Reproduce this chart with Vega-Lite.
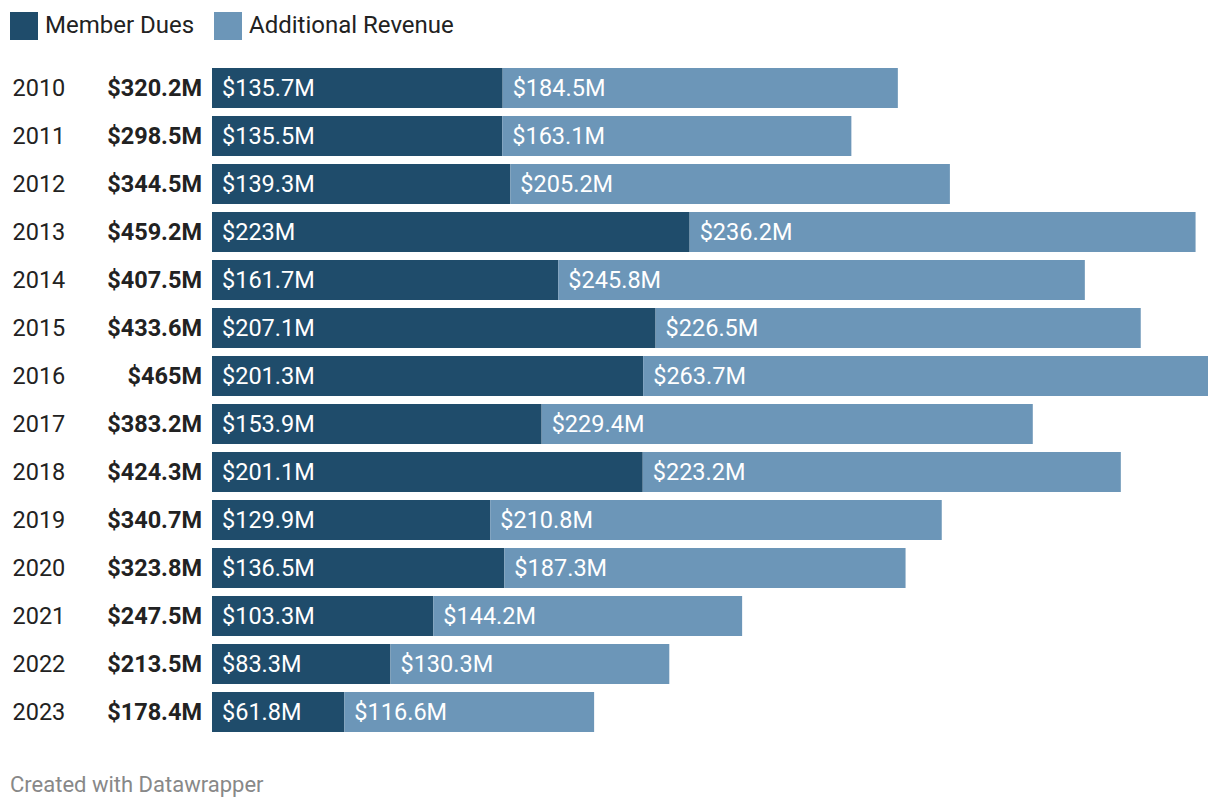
{
  "$schema": "https://vega.github.io/schema/vega-lite/v6.json",
  "autosize": "none",
  "width": 996,
  "height": 672,
  "padding": {"left": 212, "top": 64, "right": 12, "bottom": 74},
  "background": "#ffffff",
  "config": {
    "view": {"stroke": null},
    "font": "Roboto",
    "legend": {"padding": 0}
  },
  "title": {
    "text": "Created with Datawrapper",
    "orient": "bottom",
    "anchor": "start",
    "frame": "group",
    "dx": -202,
    "offset": 39,
    "fontSize": 22,
    "fontWeight": "normal",
    "color": "#888888",
    "font": "Roboto"
  },
  "data": {
    "values": [
      {"year": "2010", "dues": 135.7, "add": 184.5, "total": 320.2},
      {"year": "2011", "dues": 135.5, "add": 163.1, "total": 298.5},
      {"year": "2012", "dues": 139.3, "add": 205.2, "total": 344.5},
      {"year": "2013", "dues": 223.0, "add": 236.2, "total": 459.2},
      {"year": "2014", "dues": 161.7, "add": 245.8, "total": 407.5},
      {"year": "2015", "dues": 207.1, "add": 226.5, "total": 433.6},
      {"year": "2016", "dues": 201.3, "add": 263.7, "total": 465.0},
      {"year": "2017", "dues": 153.9, "add": 229.4, "total": 383.2},
      {"year": "2018", "dues": 201.1, "add": 223.2, "total": 424.3},
      {"year": "2019", "dues": 129.9, "add": 210.8, "total": 340.7},
      {"year": "2020", "dues": 136.5, "add": 187.3, "total": 323.8},
      {"year": "2021", "dues": 103.3, "add": 144.2, "total": 247.5},
      {"year": "2022", "dues": 83.3, "add": 130.3, "total": 213.5},
      {"year": "2023", "dues": 61.8, "add": 116.6, "total": 178.4}
    ]
  },
  "transform": [
    {"calculate": "0", "as": "zero"},
    {"calculate": "'$' + format(datum.dues, '.1~f') + 'M'", "as": "duesLabel"},
    {"calculate": "'$' + format(datum.add, '.1~f') + 'M'", "as": "addLabel"},
    {"calculate": "'$' + format(datum.total, '.1~f') + 'M'", "as": "totalLabel"}
  ],
  "encoding": {
    "y": {
      "field": "year",
      "type": "nominal",
      "sort": null,
      "scale": {"paddingInner": 0.16667, "paddingOuter": 0.08333},
      "axis": {
        "title": null,
        "ticks": false,
        "domain": false,
        "labelAlign": "left",
        "labelPadding": 200,
        "labelOffset": 1,
        "labelFontSize": 23.5,
        "labelColor": "#222222",
        "labelFont": "Roboto"
      }
    }
  },
  "layer": [
    {
      "mark": {"type": "bar"},
      "encoding": {
        "x": {"field": "zero", "type": "quantitative", "scale": {"domain": [0, 465], "nice": false, "zero": true}, "axis": null},
        "x2": {"field": "dues"},
        "color": {
          "datum": "Member Dues",
          "type": "nominal",
          "scale": {"domain": ["Member Dues", "Additional Revenue"], "range": ["#1f4c6b", "#6c96b8"]},
          "legend": {
            "title": null,
            "orient": "none",
            "legendX": -202,
            "legendY": -52,
            "direction": "horizontal",
            "symbolType": "square",
            "symbolSize": 784,
            "symbolStrokeWidth": 0,
            "symbolOpacity": 1,
            "labelFontSize": 24,
            "labelFont": "Roboto",
            "labelColor": "#222222",
            "labelOffset": 7,
            "labelLimit": 0,
            "columnPadding": 19
          }
        }
      }
    },
    {
      "mark": {"type": "bar"},
      "encoding": {
        "x": {"field": "dues", "type": "quantitative"},
        "x2": {"field": "total"},
        "color": {"datum": "Additional Revenue", "type": "nominal"}
      }
    },
    {
      "mark": {"type": "text", "align": "left", "dx": 10, "dy": 1, "fontSize": 23.5, "color": "#ffffff", "font": "Roboto"},
      "encoding": {
        "x": {"field": "zero", "type": "quantitative"},
        "text": {"field": "duesLabel", "type": "nominal"}
      }
    },
    {
      "mark": {"type": "text", "align": "left", "dx": 10, "dy": 1, "fontSize": 23.5, "color": "#ffffff", "font": "Roboto"},
      "encoding": {
        "x": {"field": "dues", "type": "quantitative"},
        "text": {"field": "addLabel", "type": "nominal"}
      }
    },
    {
      "mark": {"type": "text", "align": "right", "dx": -10, "dy": 1, "fontSize": 23.5, "fontWeight": "bold", "color": "#222222", "font": "Roboto"},
      "encoding": {
        "x": {"field": "zero", "type": "quantitative"},
        "text": {"field": "totalLabel", "type": "nominal"}
      }
    }
  ]
}
